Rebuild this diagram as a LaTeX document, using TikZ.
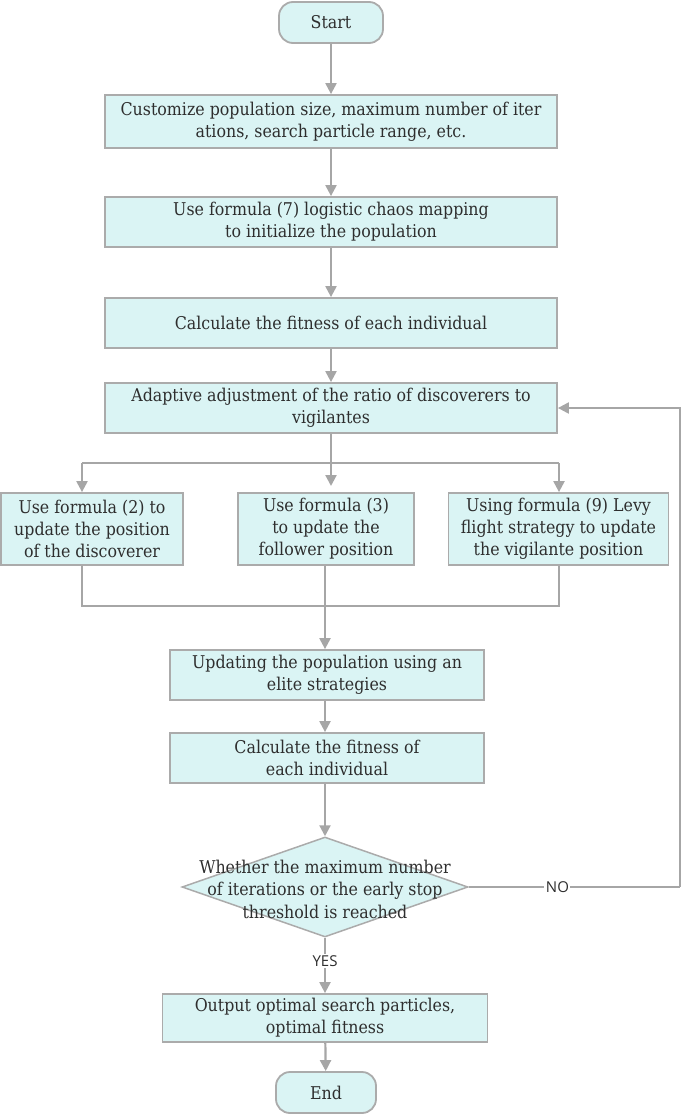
\documentclass[tikz,border=0pt]{standalone}
\usepackage{fontspec}
\setmainfont{DejaVu Serif Condensed}
\newfontfamily\labelfont{Open Sans}
\usetikzlibrary{shapes.geometric,arrows.meta}
\definecolor{boxfill}{HTML}{DAF4F4}
\definecolor{boxline}{HTML}{ABABAB}
\definecolor{arr}{HTML}{A6A6A6}
\definecolor{txt}{HTML}{2E2E2E}
\begin{document}
\begin{tikzpicture}[x=1pt,y=-1pt,
  procbox/.style={draw=boxline, line width=1.8pt, fill=boxfill, text=txt, align=center,
    inner sep=0pt, font=\fontsize{17.6}{22}\selectfont},
  termbox/.style={procbox, rounded corners=14pt},
  decbox/.style={draw=boxline, line width=1.5pt, fill=boxfill, shape=diamond, inner sep=0pt,
    minimum width=286pt, minimum height=100pt},
  dectext/.style={text=txt, align=center, inner sep=0pt, font=\fontsize{17.6}{22.5}\selectfont},
  conn/.style={draw=arr, line width=2.2pt},
  arrow/.style={conn, -{Triangle[length=11pt,width=11pt]}},
  lbl/.style={fill=white, text=txt, inner sep=1.5pt, font=\labelfont\fontsize{15}{17}\selectfont}
]
\useasboundingbox (0,0) rectangle (685,1116);

\node[termbox, minimum width=104pt, minimum height=41pt] (start) at (331,22.5) {Start};
\node[procbox, minimum width=452pt, minimum height=53pt] (init) at (331,121.5)
  {Customize population size, maximum number of iter\\ations, search particle range, etc.};
\node[procbox, minimum width=452pt, minimum height=50pt] (chaos) at (331,222)
  {Use formula (7) logistic chaos mapping\\to initialize the population};
\node[procbox, minimum width=452pt, minimum height=50pt] (fit1) at (331,323)
  {Calculate the fitness of each individual};
\node[procbox, minimum width=452pt, minimum height=50pt] (adapt) at (331,408)
  {Adaptive adjustment of the ratio of discoverers to\\vigilantes};
\node[procbox, minimum width=182pt, minimum height=72pt] (disc) at (92,529)
  {Use formula (2) to\\update the position\\of the discoverer};
\node[procbox, minimum width=176pt, minimum height=72pt] (foll) at (326,529)
  {Use formula (3)\\to update the\\follower position};
\node[procbox, minimum width=220pt, minimum height=72pt] (vigi) at (558.5,529)
  {Using formula (9) Levy\\flight strategy to update\\the vigilante position};
\node[procbox, minimum width=314pt, minimum height=50pt] (elite) at (327,675)
  {Updating the population using an\\elite strategies};
\node[procbox, minimum width=314pt, minimum height=50pt] (fit2) at (327,758)
  {Calculate the fitness of\\each individual};
\node[decbox] (dec) at (325,887) {};
\node[dectext] (dectxt) at (325,889) {Whether the maximum number\\of iterations or the early stop\\threshold is reached};
\node[procbox, minimum width=325pt, minimum height=48pt] (out) at (325,1018)
  {Output optimal search particles,\\optimal fitness};
\node[termbox, minimum width=100pt, minimum height=41pt] (end) at (326,1092.5) {End};

\coordinate (split) at (331,463);
\coordinate (splitL) at (82,463);
\coordinate (splitR) at (559,463);
\coordinate (joinL) at (82,606);
\coordinate (joinR) at (559,606);
\coordinate (joinM) at (325,606);
\coordinate (loopB) at (680,887);
\coordinate (loopT) at (680,408);
\coordinate (midtip) at (331,486);

\draw[arrow] (start) -- (init);
\draw[arrow] (init) -- (chaos);
\draw[arrow] (chaos) -- (fit1);
\draw[arrow] (fit1) -- (adapt);
\draw[arrow] (adapt.south -| split) -- (midtip);
\draw[conn] (splitL) -- (splitR);
\draw[arrow] (splitL) -- (splitL |- disc.north);
\draw[arrow] (splitR) -- (splitR |- vigi.north);
\draw[conn] (joinL |- disc.south) -- (joinL) -- (joinR) -- (joinR |- vigi.south);
\draw[arrow] (joinM |- foll.south) -- (joinM |- elite.north);
\draw[arrow] (elite.south -| joinM) -- (fit2.north -| joinM);
\draw[arrow] (fit2.south -| dec) -- (dec.north);
\draw[arrow] (dec.south) -- node[lbl, pos=0.42] {YES} (out.north);
\draw[arrow] (out) -- (end);
\draw[conn] (dec.east) -- (loopB) node[lbl, pos=0.42] {NO};
\draw[arrow] (loopB) -- (loopT) -- (adapt.east);
\end{tikzpicture}
\end{document}
